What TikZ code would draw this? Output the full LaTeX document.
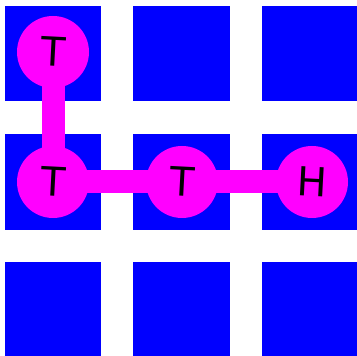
\documentclass[tikz,border=0pt]{standalone}
\usepackage{fontspec}
\setmainfont{DejaVu Sans}
\usetikzlibrary{backgrounds}
\definecolor{cCELL}{HTML}{0000FF}
\definecolor{cBEAD}{HTML}{FF00FF}
\tikzset{
  cell/.style={
    fill=cCELL, draw=none
  },
  bead/.style={
    circle, fill=cBEAD, draw=none,
    minimum size=72pt, inner sep=0pt,
    font=\fontsize{40}{40}\selectfont,
    text=black
  },
  bond/.style={
    draw=cBEAD, line width=23pt
  }
}

\begin{document}
\begin{tikzpicture}[x=1pt, y=1pt]
  \useasboundingbox (0,0) rectangle (357,356);
  \clip (0,0) rectangle (357,356);

  \node[bead] (t1) at (53,304) {\rotatebox{-3}{T}};
  \node[bead] (t2) at (53,174) {\rotatebox{-3}{T}};
  \node[bead] (t3) at (182,174) {\rotatebox{-3}{T}};
  \node[bead] (h)  at (312,174) {\rotatebox{-3}{H}};

  \begin{scope}[on background layer]
    % grid of blue cells
    \foreach \xa/\xb in {5/101, 133/230, 262/359}
      \foreach \ya/\yb in {255/350, 126/222, -3/94}
        \fill[cell] (\xa,\ya) rectangle (\xb,\yb);
    % chain
    \draw[bond] (t1.center) -- (t2.center);
    \draw[bond] (t2.center) -- (t3.center);
    \draw[bond] (t3.center) -- (h.center);
  \end{scope}
\end{tikzpicture}
\end{document}
